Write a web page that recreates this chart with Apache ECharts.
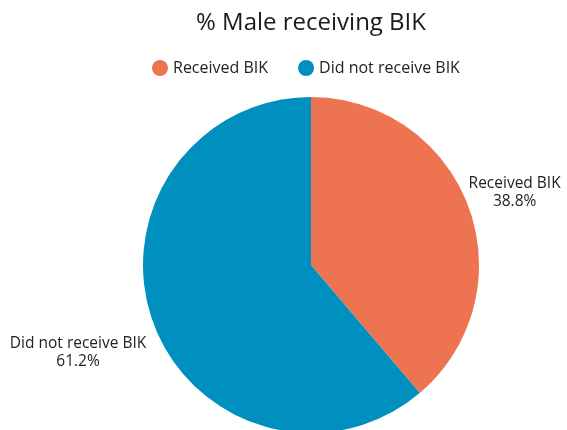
<!DOCTYPE html>
<html>
<head>
<meta charset="utf-8">
<style>
html,body{margin:0;padding:0;background:#fff;}
#chart{width:567px;height:430px;}
</style>
<script src="https://cdn.jsdelivr.net/npm/echarts@6/dist/echarts.min.js"></script>
</head>
<body>
<div id="chart"></div>
<script>
const titleText = '% Male receiving BIK';
const categories = ['Received BIK', 'Did not receive BIK'];
const values = [38.8, 61.2];
const colors = ['#EE7350', '#0090BF'];

// per-slice label placement tuning (label line hidden)
const labelLineLen = [42, 86];
const labelLineLen2 = [-45, -79];
const labelWidths = [93, 137];

const chart = echarts.init(document.getElementById('chart'));
const font = '"Open Sans", "Noto Sans", sans-serif';

chart.setOption({
  animation: false,
  title: {
    text: titleText,
    left: 196,
    top: 11,
    padding: 0,
    textStyle: { fontFamily: font, fontSize: 24, fontWeight: 'normal', color: '#1a1a1a' }
  },
  legend: {
    left: 152,
    top: 60,
    padding: 0,
    icon: 'circle',
    itemWidth: 16,
    itemHeight: 16,
    itemGap: 30,
    data: categories,
    textStyle: { fontFamily: font, fontSize: 16, color: '#222' }
  },
  series: [{
    type: 'pie',
    center: [311, 265],
    radius: 168,
    startAngle: 90,
    clockwise: true,
    avoidLabelOverlap: false,
    percentPrecision: 1,
    label: {
      show: true,
      position: 'outside',
      formatter: '{c|{b}}\n{c|{d}%}',
      overflow: 'none',
      rich: {
        c: { fontFamily: font, fontSize: 15.5, lineHeight: 18, color: '#222', align: 'center' }
      }
    },
    labelLine: { show: false },
    emphasis: { disabled: true },
    data: categories.map((name, i) => ({
      name: name,
      value: values[i],
      itemStyle: { color: colors[i] },
      label: { width: labelWidths[i] },
      labelLine: { show: false, length: labelLineLen[i], length2: labelLineLen2[i] }
    }))
  }]
});
</script>
</body>
</html>
